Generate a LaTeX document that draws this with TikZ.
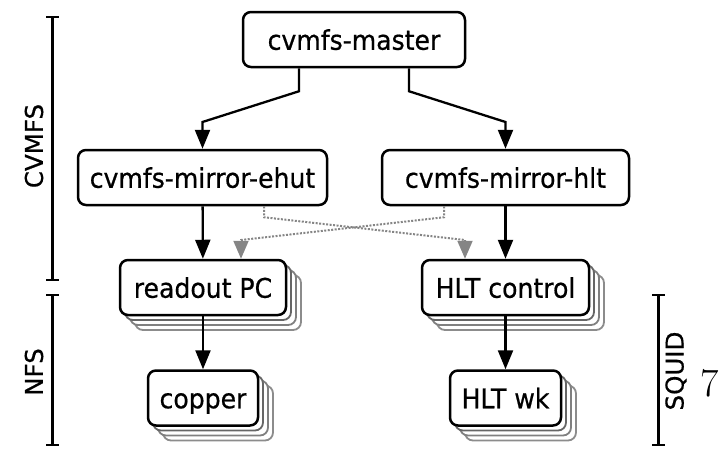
\documentclass[tikz,border=0pt]{standalone}
\usepackage{fontspec}
\setsansfont{DejaVu Sans}[FakeStretch=0.93,FakeBold=0.6]
\newfontfamily\sidefont{DejaVu Sans}[FakeBold=0.6]
\usetikzlibrary{arrows.meta,shadows}
\begin{document}
\begin{tikzpicture}[x=1pt,y=-1pt,
  box/.style={draw, line width=2.5pt, rounded corners=8pt, fill=white,
    minimum height=55pt, inner sep=0pt, text height=20.5pt, text depth=0pt,
    font=\sffamily\fontsize{27}{32}\selectfont},
  stack/.style={
    copy shadow={shadow xshift=15pt,shadow yshift=-15pt,draw=black!45,line width=1.8pt},
    copy shadow={shadow xshift=10pt,shadow yshift=-10pt,draw=black!50,line width=1.8pt},
    copy shadow={shadow xshift=5pt,shadow yshift=-5pt,draw=black!60,line width=1.8pt}},
  arr/.style={line width=2.3pt, -{Triangle[length=19pt,width=15pt]}},
  dotarr/.style={line width=2pt, black!48, dash pattern=on 2pt off 1.5pt,
    -{Triangle[length=18pt,width=15pt]}},
  brk/.style={line width=2.4pt},
  side/.style={font=\sidefont\fontsize{24.5}{28}\selectfont, rotate=90, inner sep=0pt}
]
\useasboundingbox (0,0) rectangle (720,448);

% servers
\node[box, minimum width=222pt] (master) at (354,39.5) {cvmfs-master};
\node[box, minimum width=249pt] (ehut) at (202.5,177.5) {cvmfs-mirror-ehut};
\node[box, minimum width=247pt] (hlt) at (505.5,177.5) {cvmfs-mirror-hlt};
\node[box, stack, minimum width=166pt] (readout) at (203,287.5) {readout PC};
\node[box, stack, minimum width=167pt] (hltc) at (505.5,287.5) {HLT control};
\node[box, stack, minimum width=110pt] (copper) at (203,398) {copper};
\node[box, stack, minimum width=111pt] (wk) at (505.5,398) {HLT wk};

% main distribution links
\draw[arr] ([xshift=-55pt]master.south) -- ++(0,23) -- (ehut.north |- 0,122) -- (ehut.north);
\draw[arr] ([xshift=55pt]master.south) -- ++(0,23) -- (hlt.north |- 0,122) -- (hlt.north);
\draw[arr] (ehut) -- (readout);
\draw[arr] (hlt) -- (hltc);
\draw[arr] (readout) -- (copper);
\draw[arr] (hltc) -- (wk);

% cross-over backup links
\coordinate (rin) at ([xshift=38pt]readout.north);
\coordinate (hin) at ([xshift=-40.5pt]hltc.north);
\draw[dotarr] ([xshift=61.5pt]ehut.south) -- ++(0,11) -- (hin |- 0,240) -- (hin);
\draw[dotarr] ([xshift=-61.5pt]hlt.south) -- ++(0,11) -- (rin |- 0,240) -- (rin);

% tier brackets
\draw[brk] (46,17) -- (59,17) (52.5,17) -- (52.5,280) (46,280) -- (59,280);
\draw[brk] (46,295) -- (59,295) (52.5,295) -- (52.5,445) (46,445) -- (59,445);
\draw[brk] (652,295) -- (665,295) (658.5,295) -- (658.5,445) (652,445) -- (665,445);
\node[side] (lcvmfs) at (34,146) {CVMFS};
\node[side] (lnfs) at (34,372) {NFS};
\node[side] (lsquid) at (676,371) {SQUID};

% page number
\node[font=\rmfamily\fontsize{40}{44}\selectfont, inner sep=0pt] (pnum) at (710,383) {7};
\end{tikzpicture}
\end{document}
